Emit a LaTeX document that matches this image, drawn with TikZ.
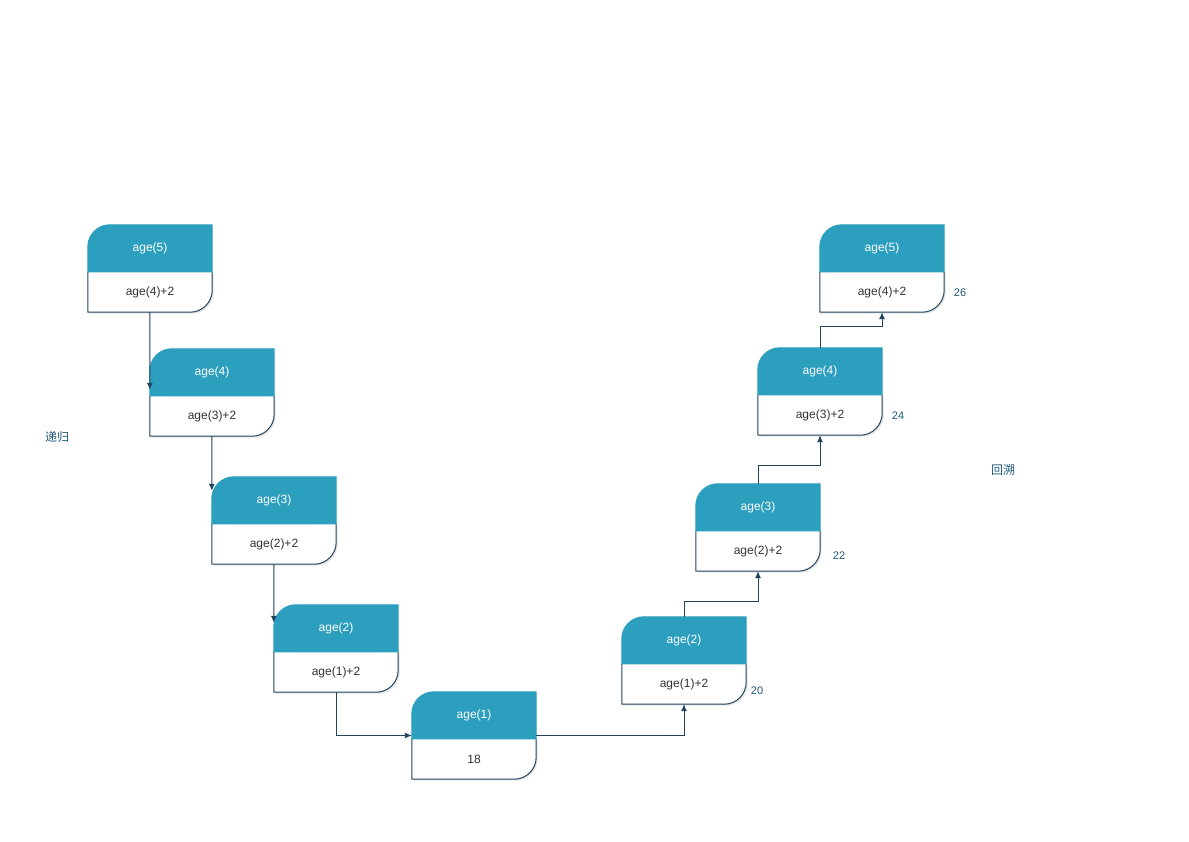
\documentclass[tikz,border=0pt]{standalone}
\usepackage{fontspec}
\setmainfont{Liberation Sans}
\newfontfamily\cjk{Noto Sans CJK SC}
\usetikzlibrary{arrows.meta,calc}
\definecolor{headfill}{HTML}{2C9FBF}
\definecolor{linecol}{HTML}{23445D}
\definecolor{bodytxt}{HTML}{333333}
\definecolor{notecol}{HTML}{1F5A7A}

% box with rounded top left / bottom right corner
\newcommand{\agebox}[4]{%
  \node[ageframe] (#1) at (#2) {};
  \fill[black!10] ($(#1.north west)+(1.5,-48.5)$) -- ($(#1.south west)+(1.5,-1.5)$) -- ($(#1.south east)+(-20.5,-1.5)$) arc[start angle=270,end angle=360,radius=22pt] -- ($(#1.north east)+(1.5,-48.5)$) -- cycle;
  \filldraw[fill=white,draw=linecol,line width=1pt] ($(#1.north west)+(0,-47)$) -- (#1.south west) -- ($(#1.south east)+(-22,0)$) arc[start angle=270,end angle=360,radius=22pt] -- ($(#1.north east)+(0,-47)$);
  \filldraw[fill=headfill,draw=headfill,line width=1pt] ($(#1.north west)+(0,-47)$) -- ($(#1.north west)+(0,-22)$) arc[start angle=180,end angle=90,radius=22pt] -- (#1.north east) -- ($(#1.north east)+(0,-47)$) -- cycle;
  \node[headtext] (#1h) at ($(#1.north)+(0,-23.5)$) {#3};
  \node[bodytext] (#1b) at ($(#1.south)+(0,20)$) {#4};
}

\begin{document}
\begin{tikzpicture}[x=1pt,y=1pt]
	\tikzset{ageframe/.style = {shape=rectangle,minimum width=124pt,minimum height=87pt,inner sep=0pt}}
	\tikzset{headtext/.style = {text=white,font=\fontsize{12}{14}\selectfont}}
	\tikzset{bodytext/.style = {text=bodytxt,font=\fontsize{12}{14}\selectfont}}
	\tikzset{note/.style = {text=notecol,font=\fontsize{11}{13}\selectfont}}
	\tikzset{cjknote/.style = {text=notecol,font=\cjk\fontsize{12}{14}\selectfont}}
	\tikzset{edge/.style = {-{Latex[length=7pt,width=6pt]},draw=linecol,line width=1pt}}
	\useasboundingbox[fill=white] (0,0) rectangle (1189,-841);
	% recursion side
	\agebox{l5}{150,-268.5}{age(5)}{age(4)+2}
	\agebox{l4}{212,-392.5}{age(4)}{age(3)+2}
	\agebox{l3}{274,-520.5}{age(3)}{age(2)+2}
	\agebox{l2}{336,-648.5}{age(2)}{age(1)+2}
	\agebox{l1}{474,-735.5}{age(1)}{18}
	% backtracking side
	\agebox{r2}{684,-660.5}{age(2)}{age(1)+2}
	\agebox{r3}{758,-527.5}{age(3)}{age(2)+2}
	\agebox{r4}{820,-391.5}{age(4)}{age(3)+2}
	\agebox{r5}{882,-268.5}{age(5)}{age(4)+2}
	\coordinate (l4in) at ($(l4.north west)+(0,-41)$);
	\coordinate (l3in) at ($(l3.north west)+(0,-14)$);
	\coordinate (l2in) at ($(l2.north west)+(0,-18)$);
	\draw[edge] (l5.south) -- (l4in);
	\draw[edge] (l4.south) -- (l3in);
	\draw[edge] (l3.south) -- (l2in);
	\draw[edge] (l2.south) |- (l1.west);
	\draw[edge] (l1.east) -| (r2.south);
	\draw[edge] (r2.north) -- ++(0,15) -| (r3.south);
	\draw[edge] (r3.north) -- ++(0,18) -| (r4.south);
	\draw[edge] (r4.north) -- ++(0,21) -| (r5.south);
	\node[note] (v20) at (757,-691) {20};
	\node[note] (v22) at (839,-556) {22};
	\node[note] (v24) at (898,-416) {24};
	\node[note] (v26) at (960,-293) {26};
	\node[cjknote] (dg) at (57,-437) {递归};
	\node[cjknote] (hs) at (1003,-470) {回溯};
\end{tikzpicture}
\end{document}
